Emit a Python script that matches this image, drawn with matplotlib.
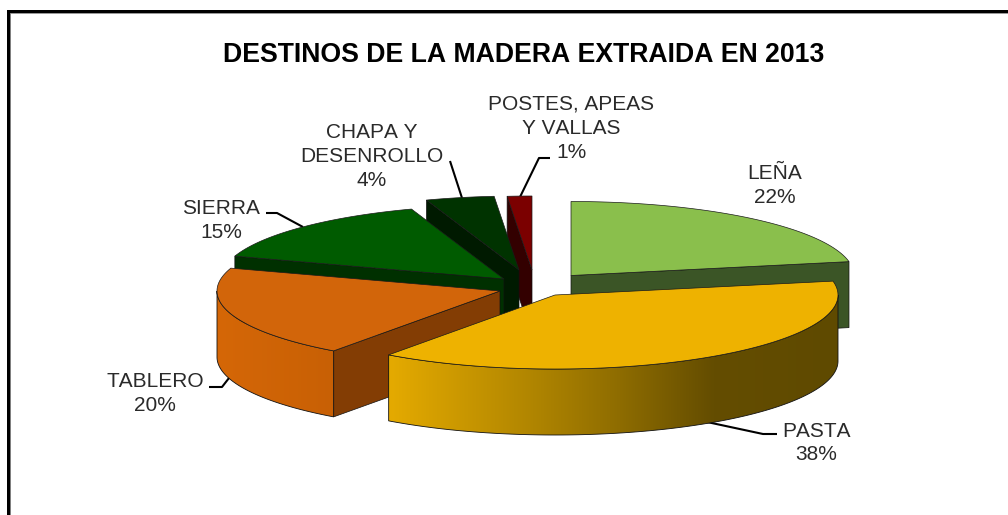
import numpy as np
import matplotlib
matplotlib.use('Agg')
import matplotlib.pyplot as plt
from matplotlib.patches import Polygon, Rectangle

plt.rcParams['font.family'] = ['Liberation Sans', 'DejaVu Sans']
plt.rcParams['text.kerning_factor'] = 6

title = 'DESTINOS DE LA MADERA EXTRAIDA EN 2013'
names = ['LEÑA', 'PASTA', 'TABLERO', 'SIERRA', 'CHAPA Y\nDESENROLLO', 'POSTES, APEAS\nY VALLAS']
values = [22.0, 38.0, 20.0, 14.7, 3.9, 1.4]

# drawing order and look of each slice
draw_order = [0, 5, 4, 3, 2, 1]
top_colors = ['#8abf4c', '#eeb200', '#d2650a', '#005b00', '#003300', '#7b0000']
cut_colors = ['#3b5526', '#5f4a00', '#833d04', '#003000', '#001a00', '#330000']
# exploded centre of every slice, pixels
centers = [(571, 275.5), (555, 295), (500, 291), (504, 279), (519, 270), (532, 270)]
# gradient of the outer wall: x stops, colours
wall_stops = {
    1: ([390, 533, 617, 713, 838], ['#e4aa00', '#b08500', '#8f6d00', '#644d00', '#5f4a00']),
    2: ([216, 335], ['#d56707', '#c86005']),
}
label_pos = [(775, 203), (816, 460.5), (155, 411), (221, 237.5), (372, 186), (571, 157.5)]
leaders = [
    None,
    ([777, 763, 707], [434, 434, 422]),
    ([209, 222, 229], [387, 387, 378]),
    ([266, 277, 303], [213, 213, 227]),
    ([450, 462], [161, 198]),
    ([550, 539, 520], [158, 158, 197]),
]
RX, RY, DEPTH = 283, 74, 66

fig = plt.figure(figsize=(10.08, 5.15), dpi=100)
ax = fig.add_axes([0, 0, 1, 1])
ax.axis('off')


def rim(c, a0, a1):
    t = np.radians(np.linspace(a0, a1, max(int(abs(a1 - a0) * 2), 2)))
    return np.column_stack([c[0] + RX * np.sin(t), c[1] - RY * np.cos(t)])


def cut_face(c, a, color, z):
    p = rim(c, a, a)[0]
    pts = [c, p, (p[0], p[1] + DEPTH), (c[0], c[1] + DEPTH)]
    ax.add_patch(Polygon(pts, fc=color, ec='#111111', lw=0.5, zorder=z))


def outer_wall(c, a0, a1, stops, z):
    arc = rim(c, a0, a1)
    pts = np.vstack([arc, (arc + [0, DEPTH])[::-1]])
    poly = Polygon(pts, fc='none', ec='#111111', lw=0.6, zorder=z + 1)
    ax.add_patch(poly)
    xs = np.arange(pts[:, 0].min() - 1, pts[:, 0].max() + 2)
    rgb = np.array([matplotlib.colors.to_rgb(s) for s in stops[1]])
    grad = np.stack([np.interp(xs, stops[0], rgb[:, i]) for i in range(3)], axis=-1)[None, :, :]
    im = ax.imshow(grad, extent=(xs[0], xs[-1], pts[:, 1].max() + 1, pts[:, 1].min() - 1),
                   aspect='auto', zorder=z, interpolation='bilinear')
    im.set_clip_path(poly)


edges = np.concatenate([[0], np.cumsum(values)]) * 3.6

# leader lines go under the pie
for line in leaders:
    if line is not None:
        ax.plot(line[0], line[1], color='black', lw=1.5, zorder=1, solid_capstyle='butt')

z = 2
for i in draw_order:
    a0, a1 = edges[i], edges[i + 1]
    c = centers[i]
    # side cuts facing the viewer
    if 180 < a0 < 360:
        cut_face(c, a0, cut_colors[i], z)
    if 0 < a1 < 180:
        cut_face(c, a1, cut_colors[i], z)
    z += 1
    w0, w1 = max(a0, 90), min(a1, 270)
    if w0 < w1:
        outer_wall(c, w0, w1, wall_stops[i], z)
    z += 2
    top = np.vstack([[c], rim(c, a0, a1)])
    ax.add_patch(Polygon(top, fc=top_colors[i], ec='#1a1a1a', lw=0.5, zorder=z))
    z += 1

for name, v, pos in zip(names, values, label_pos):
    ax.text(pos[0], pos[1], f'{name}\n{round(v)}%', ha='center', va='baseline',
            fontsize=15, color='#2a2a2a', linespacing=1.33, zorder=50)

ax.text(523.5, 62, title, ha='center', va='baseline', fontsize=19.2,
        fontweight='bold', color='black', zorder=50)

# frame of the chart, only top and left show
ax.add_patch(Rectangle((7, 10), 1001, 3, fc='black', ec='none', zorder=40))
ax.add_patch(Rectangle((7, 13), 1001, 1, fc='#999999', ec='none', zorder=39))
ax.add_patch(Rectangle((7, 10), 3, 505, fc='black', ec='none', zorder=40))
ax.add_patch(Rectangle((10, 13), 1, 502, fc='#808080', ec='none', zorder=39))

ax.set_xlim(0, 1008)
ax.set_ylim(515, 0)
fig.savefig('out.png', dpi=100)
